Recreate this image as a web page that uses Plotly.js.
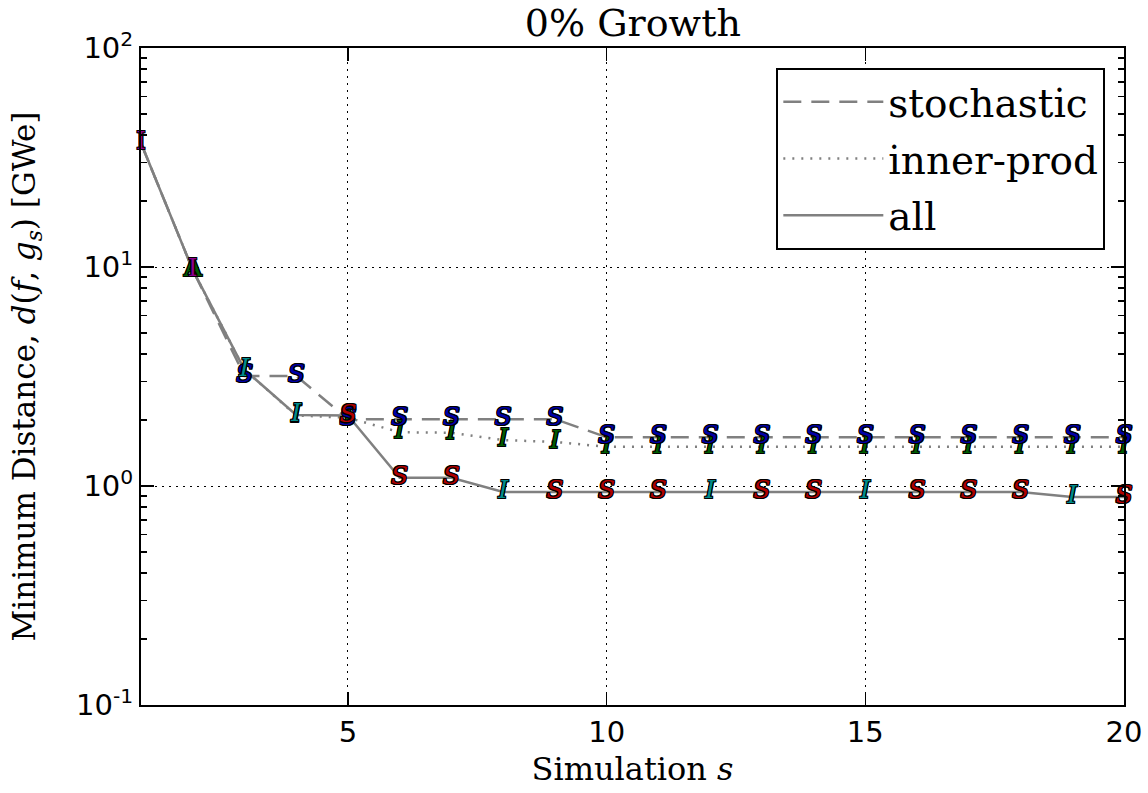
<!DOCTYPE html>
<html>
<head>
<meta charset="utf-8">
<script src="https://cdn.plot.ly/plotly-3.0.1.min.js"></script>
<style>html,body{margin:0;padding:0;background:#fff;}#chart{width:1148px;height:793px;}</style>
</head>
<body>
<div id="chart"></div>
<script>
// ---- data ----
const simulations = [1,2,3,4,5,6,7,8,9,10,11,12,13,14,15,16,17,18,19,20];

const stochasticValues = [36.8, 9.7, 3.18, 3.18, 2.02, 2.02, 2.02, 2.02, 2.02, 1.67, 1.67, 1.67, 1.67, 1.67, 1.67, 1.67, 1.67, 1.67, 1.67, 1.67];
const innerProdValues  = [36.8, 9.7, 3.40, 2.10, 2.05, 1.76, 1.75, 1.62, 1.59, 1.51, 1.51, 1.51, 1.51, 1.51, 1.51, 1.51, 1.51, 1.51, 1.51, 1.51];
const allValues        = [36.8, 9.7, 3.40, 2.11, 2.10, 1.09, 1.09, 0.94, 0.94, 0.94, 0.94, 0.94, 0.94, 0.94, 0.94, 0.94, 0.94, 0.94, 0.89, 0.89];

// marker letters: which method gave the minimum
const stochasticLetters = ['', '', 'S','S','S','S','S','S','S','S','S','S','S','S','S','S','S','S','S','S'];
const innerProdLetters  = ['', 'A', 'I','I','I','I','I','I','I','I','I','I','I','I','I','I','I','I','I','I'];
const allLetters        = ['I','I','I','I','S','S','S','I','S','S','S','I','S','S','I','S','S','S','I','S'];

const seriesNames = ['stochastic', 'inner-prod', 'all'];
const yTickVals = [0.1, 1, 10, 100];
const yTickText = ['10<sup>-1</sup>', '10<sup>0</sup>', '10<sup>1</sup>', '10<sup>2</sup>'];
const xTickVals = [5, 10, 15, 20];

// ---- styling ----
const GREY = '#808080';
const letterColor = {S_all: '#b00000', I_all: '#008c8c', S_sto: '#0000a8', I_inn: '#005c00', first: '#8c008c', A: '#005c00'};
const OUTLINE = '1px 0 0 #000, -1px 0 0 #000, 0 1px 0 #000, 0 -1px 0 #000, 1px 1px 0 #000, -1px -1px 0 #000, 1px -1px 0 #000, -1px 1px 0 #000';

function markerText(letters, upright) {
  return letters.map((l, i) => (l === '' ? '' : (upright[i] ? l : '<i>' + l + '</i>')));
}
const uprightFirst = simulations.map((s) => s <= 2);

function letterTrace(values, letters, colorFn) {
  const txt = markerText(letters, uprightFirst);
  const colors = letters.map((l, i) => colorFn(l, i));
  return {x: simulations, y: values, mode: 'text', text: txt, showlegend: false, hoverinfo: 'skip',
    textposition: 'middle center', cliponaxis: false,
    textfont: {family: 'DejaVu Serif', size: 25, color: colors, shadow: OUTLINE}};
}

const traces = [
  {x: simulations, y: stochasticValues, name: seriesNames[0], mode: 'lines',
   line: {color: GREY, width: 2.5, dash: '18px,10px'}, legendgroup: 'a'},
  {x: simulations, y: innerProdValues, name: seriesNames[1], mode: 'lines',
   line: {color: GREY, width: 2.5, dash: '2px,7px'}, legendgroup: 'b'},
  {x: simulations, y: allValues, name: seriesNames[2], mode: 'lines',
   line: {color: GREY, width: 2.5}, legendgroup: 'c'},
  letterTrace(innerProdValues, innerProdLetters, (l, i) => (l === 'A' ? letterColor.A : letterColor.I_inn)),
  letterTrace(stochasticValues, stochasticLetters, () => letterColor.S_sto),
  letterTrace(allValues, allLetters, (l, i) => (i === 0 || i === 1 ? letterColor.first : (l === 'S' ? letterColor.S_all : letterColor.I_all)))
];

const axisCommon = {
  showline: true, linecolor: '#000', linewidth: 2, mirror: 'ticks',
  ticks: 'inside', ticklen: 13, tickwidth: 1.5, tickcolor: '#000',
  showgrid: true, gridcolor: '#000', gridwidth: 1, griddash: '2px,5px',
  zeroline: false
};

const layout = {
  width: 1148, height: 793,
  margin: {l: 141, r: 24, t: 48, b: 88},
  paper_bgcolor: '#fff', plot_bgcolor: '#fff',
  font: {family: 'DejaVu Serif', color: '#000'},
  title: {text: '0% Growth', font: {family: 'DejaVu Serif', size: 38, color: '#000'},
          x: 0.5513, xanchor: 'center', y: 0.972, yanchor: 'middle'},
  xaxis: Object.assign({}, axisCommon, {
    range: [1, 20], tickmode: 'array', tickvals: xTickVals,
    tickfont: {family: 'DejaVu Sans', size: 29},
    title: {text: 'Simulation <i>s</i>', font: {family: 'DejaVu Serif', size: 32}, standoff: 10}
  }),
  yaxis: Object.assign({}, axisCommon, {
    type: 'log', range: [-1, 2], tickmode: 'array', tickvals: yTickVals, ticktext: yTickText,
    tickfont: {family: 'DejaVu Sans', size: 29},
    minor: {ticks: 'inside', ticklen: 6, tickwidth: 1.5, tickcolor: '#000', dtick: 'D1', showgrid: false},
    title: {text: 'Minimum Distance, <i>d</i>(<i>f</i>, <i>g<sub>s</sub></i>) [GWe]', font: {family: 'DejaVu Serif', size: 31}, standoff: 31}
  }),
  legend: {
    x: 0.981, xanchor: 'right', y: 0.9696, yanchor: 'top',
    bgcolor: '#fff', bordercolor: '#000', borderwidth: 2,
    font: {family: 'DejaVu Serif', size: 39, color: '#000'},
    tracegroupgap: 3, itemwidth: 100
  },
  showlegend: true
};

Plotly.newPlot('chart', traces, layout, {displayModeBar: false, staticPlot: true});
</script>
</body>
</html>
